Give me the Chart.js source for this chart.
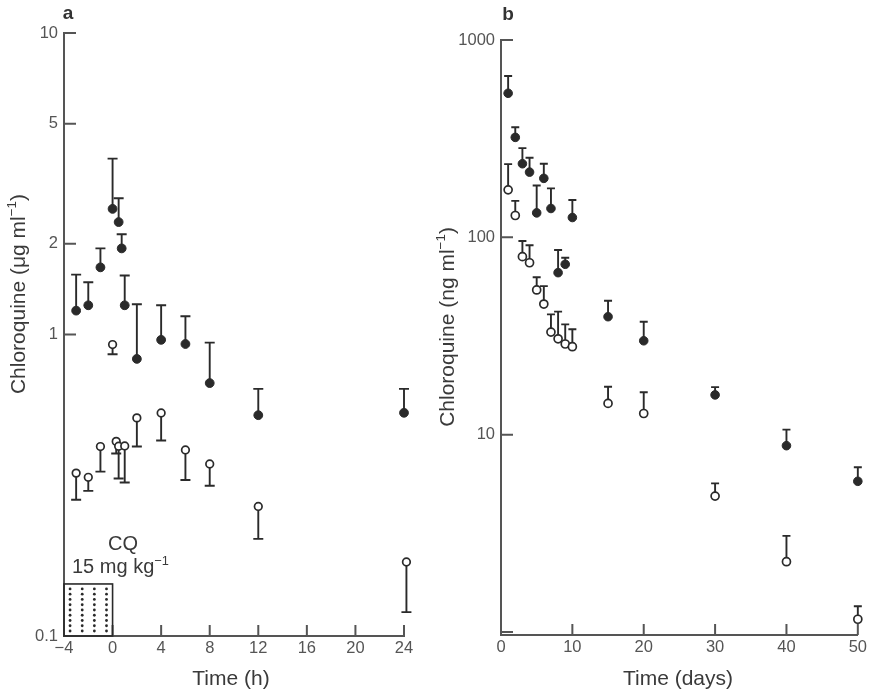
<!DOCTYPE html>
<html>
<head>
<meta charset="utf-8">
<script src="https://cdn.jsdelivr.net/npm/chart.js@4.4.0/dist/chart.umd.min.js"></script>
<style>
html, body { margin: 0; padding: 0; background: #fff; }
#wrap { position: relative; width: 870px; height: 695px; overflow: hidden; }
canvas { position: absolute; top: 0; }
#chartA { left: 0; }
#chartB { left: 420px; }
</style>
</head>
<body>
<div id="wrap">
    <canvas id="chartA" width="430" height="695"></canvas>
    <canvas id="chartB" width="450" height="695"></canvas>
</div>
<script>
// ---- panel a : time in hours, chloroquine in ug/ml ----
const hoursFilled = [-3, -2, -1, 0, 0.5, 0.75, 1, 2, 4, 6, 8, 12, 24];
const meanFilledA = [1.20, 1.25, 1.67, 2.61, 2.36, 1.93, 1.25, 0.83, 0.96, 0.93, 0.69, 0.54, 0.55];
const upperFilledA = [1.58, 1.49, 1.93, 3.83, 2.83, 2.15, 1.57, 1.26, 1.25, 1.15, 0.94, 0.66, 0.66];

const hoursOpen = [-3, -2, -1, 0, 0.3, 0.5, 1, 2, 4, 6, 8, 12, 24.2];
const meanOpenA = [0.347, 0.336, 0.425, 0.926, 0.442, 0.426, 0.427, 0.529, 0.549, 0.414, 0.372, 0.269, 0.176];
const lowerOpenA = [0.283, 0.303, 0.351, 0.86, 0.403, 0.333, 0.323, 0.425, 0.445, 0.329, 0.315, 0.210, 0.120];

const xTicksA = [-4, 0, 4, 8, 12, 16, 20, 24];
const yTicksA = [0.1, 1, 2, 5, 10];
const yLabelsA = ['0.1', '1', '2', '5', '10'];

// ---- panel b : time in days, chloroquine in ng/ml ----
const days = [1, 2, 3, 4, 5, 6, 7, 8, 9, 10, 15, 20, 30, 40, 50];
const meanFilledB = [537, 321, 236, 214, 133, 199, 140, 66.2, 73, 126, 39.6, 29.9, 15.9, 8.79, 5.80];
const upperFilledB = [657, 361, 283, 253, 183, 236, 177, 86.2, 78.8, 154.5, 47.7, 37.3, 17.4, 10.6, 6.83];
const meanOpenB = [174, 129, 79.8, 74.3, 54.1, 45.9, 33.1, 30.6, 28.8, 27.9, 14.4, 12.8, 4.88, 2.27, 1.16];
const upperOpenB = [235, 153, 95.8, 91.1, 62.7, 56.6, 40.7, 42.0, 36.2, 34.2, 17.5, 16.4, 5.66, 3.07, 1.35];

const xTicksB = [0, 10, 20, 30, 40, 50];
const yTicksB = [1, 10, 100, 1000];
const yLabelsB = ['', '10', '100', '1000'];

// dose box (0.1 to top of box, from -4 h to 0 h)
const doseBox = { from: -4, to: 0, top: 0.1488 };
const doseDotCols = [-3.5, -2.5, -1.5, -0.5];

const FONT = '"Liberation Sans", Arial, Helvetica, sans-serif';
const INK = '#2a2a2a';
const AXIS = '#555';
const TICKTXT = '#555';
const TITLE = '#3a3a3a';

function pts(xs, ys) {
    return xs.map((x, i) => ({ x: x, y: ys[i] }));
}

// draws a run of text pieces, some of them superscript, centred or left aligned
function drawRuns(ctx, runs, x, y, size, align, rotate) {
    const supSize = size * 0.64;
    let total = 0;
    runs.forEach(r => {
        ctx.font = (r.bold ? 'bold ' : '') + (r.sup ? supSize : size) + 'px ' + FONT;
        r.w = ctx.measureText(r.t).width;
        total += r.w;
    });
    ctx.save();
    ctx.translate(x, y);
    if (rotate) ctx.rotate(rotate);
    ctx.textAlign = 'left';
    ctx.textBaseline = 'alphabetic';
    let cx = align === 'center' ? -total / 2 : 0;
    runs.forEach(r => {
        ctx.font = (r.bold ? 'bold ' : '') + (r.sup ? supSize : size) + 'px ' + FONT;
        ctx.fillText(r.t, cx, r.sup ? -size * 0.42 : 0);
        cx += r.w;
    });
    ctx.restore();
}

const errorBarPlugin = {
    id: 'errorBars',
    beforeDatasetsDraw(chart, args, opts) {
        const ctx = chart.ctx;
        const xs = chart.scales.x, ys = chart.scales.y;
        ctx.save();
        ctx.strokeStyle = INK;
        ctx.lineWidth = 1.9;
        chart.data.datasets.forEach(ds => {
            if (!ds.errorTo) return;
            ds.data.forEach((p, i) => {
                const px = xs.getPixelForValue(p.x);
                const py = ys.getPixelForValue(p.y);
                const pe = ys.getPixelForValue(ds.errorTo[i]);
                ctx.beginPath();
                ctx.moveTo(px, py);
                ctx.lineTo(px, pe);
                ctx.moveTo(px - opts.cap / 2, pe);
                ctx.lineTo(px + opts.cap / 2, pe);
                ctx.stroke();
            });
        });
        ctx.restore();
    }
};

// tick marks drawn on the inside of the axes
function insideTicks(xVals, yVals) {
    return {
        id: 'insideTicks',
        afterDraw(chart) {
            const ctx = chart.ctx;
            const xs = chart.scales.x, ys = chart.scales.y;
            const area = chart.chartArea;
            ctx.save();
            ctx.strokeStyle = AXIS;
            ctx.lineWidth = 2;
            ctx.beginPath();
            xVals.forEach(v => {
                const px = xs.getPixelForValue(v);
                ctx.moveTo(px, area.bottom);
                ctx.lineTo(px, area.bottom - 11);
            });
            yVals.forEach(v => {
                const py = ys.getPixelForValue(v);
                ctx.moveTo(area.left, py);
                ctx.lineTo(area.left + 12, py);
            });
            ctx.stroke();
            ctx.restore();
        }
    };
}

function baseOptions(cfg) {
    return {
        responsive: false,
        animation: false,
        events: [],
        layout: { padding: cfg.padding },
        plugins: {
            legend: { display: false },
            tooltip: { enabled: false },
            errorBars: { cap: cfg.cap }
        },
        scales: {
            x: {
                type: 'linear',
                min: cfg.xMin,
                max: cfg.xMax,
                afterFit: s => { s.height = cfg.xHeight; },
                afterBuildTicks: s => { s.ticks = cfg.xTicks.map(v => ({ value: v })); },
                grid: { display: false, drawTicks: false },
                border: { display: true, color: AXIS, width: 2 },
                ticks: {
                    color: TICKTXT,
                    padding: 3,
                    maxRotation: 0,
                    font: { family: FONT, size: 16.5 },
                    callback: v => (v < 0 ? '\u2212' + Math.abs(v) : String(v))
                }
            },
            y: {
                type: 'logarithmic',
                min: cfg.yMin,
                max: cfg.yMax,
                afterFit: s => { s.width = cfg.yWidth; },
                afterBuildTicks: s => { s.ticks = cfg.yTicks.map(v => ({ value: v })); },
                grid: { display: false, drawTicks: false },
                border: { display: true, color: AXIS, width: 2 },
                ticks: {
                    color: TICKTXT,
                    padding: 6,
                    font: { family: FONT, size: 16.5 },
                    callback: v => {
                        const i = cfg.yTicks.indexOf(v);
                        return i >= 0 ? cfg.yLabels[i] : '';
                    }
                }
            }
        }
    };
}

function filledSet(data, err, r) {
    return {
        data: data, errorTo: err, showLine: false, clip: false,
        pointStyle: 'circle', pointRadius: r,
        backgroundColor: INK, borderColor: INK, borderWidth: 1
    };
}

function openSet(data, err, r) {
    return {
        data: data, errorTo: err, showLine: false, clip: false,
        pointStyle: 'circle', pointRadius: r,
        backgroundColor: '#fff', borderColor: INK, borderWidth: 1.7
    };
}

// ---- chart a ----
const decorA = {
    id: 'decorA',
    afterDraw(chart) {
        const ctx = chart.ctx;
        const xs = chart.scales.x, ys = chart.scales.y;
        const x0 = xs.getPixelForValue(doseBox.from);
        const x1 = xs.getPixelForValue(doseBox.to);
        const yTop = ys.getPixelForValue(doseBox.top);
        const yBot = ys.getPixelForValue(0.1);
        ctx.save();
        ctx.strokeStyle = INK;
        ctx.lineWidth = 1.6;
        ctx.strokeRect(x0, yTop, x1 - x0, yBot - yTop);
        ctx.fillStyle = INK;
        doseDotCols.forEach(c => {
            const px = xs.getPixelForValue(c);
            for (let k = 0; k < 9; k++) {
                const py = yTop + 5 + k * (yBot - yTop - 10) / 8;
                ctx.beginPath();
                ctx.arc(px, py, 1.4, 0, Math.PI * 2);
                ctx.fill();
            }
        });
        ctx.fillStyle = TITLE;
        drawRuns(ctx, [{ t: 'CQ' }], 123, 550, 20, 'center');
        drawRuns(ctx, [{ t: '15 mg kg' }, { t: '\u22121', sup: true }], 72, 573, 20, 'left');
        drawRuns(ctx, [{ t: 'Time (h)' }], 231, 685, 21, 'center');
        drawRuns(ctx, [{ t: 'Chloroquine (\u03bcg ml' }, { t: '\u22121', sup: true }, { t: ')' }],
            25, 294, 21, 'center', -Math.PI / 2);
        ctx.fillStyle = '#333';
        drawRuns(ctx, [{ t: 'a', bold: true }], 68, 19, 19, 'center');
        ctx.restore();
    }
};

new Chart(document.getElementById('chartA'), {
    type: 'scatter',
    data: {
        datasets: [
            openSet(pts(hoursOpen, meanOpenA), lowerOpenA, 3.8),
            filledSet(pts(hoursFilled, meanFilledA), upperFilledA, 4.4)
        ]
    },
    options: baseOptions({
        padding: { top: 33, right: 26, bottom: 0, left: 0 },
        cap: 10,
        xMin: -4, xMax: 24, xTicks: xTicksA, xHeight: 59,
        yMin: 0.1, yMax: 10, yTicks: yTicksA, yLabels: yLabelsA, yWidth: 64
    }),
    plugins: [errorBarPlugin, insideTicks(xTicksA, yTicksA), decorA]
});

// ---- chart b ----
const decorB = {
    id: 'decorB',
    afterDraw(chart) {
        const ctx = chart.ctx;
        ctx.save();
        ctx.fillStyle = TITLE;
        drawRuns(ctx, [{ t: 'Time (days)' }], 258, 685, 21, 'center');
        drawRuns(ctx, [{ t: 'Chloroquine (ng ml' }, { t: '\u22121', sup: true }, { t: ')' }],
            34, 327, 21, 'center', -Math.PI / 2);
        ctx.fillStyle = '#333';
        drawRuns(ctx, [{ t: 'b', bold: true }], 88, 20, 19, 'center');
        ctx.restore();
    }
};

new Chart(document.getElementById('chartB'), {
    type: 'scatter',
    data: {
        datasets: [
            openSet(pts(days, meanOpenB), upperOpenB, 4),
            filledSet(pts(days, meanFilledB), upperFilledB, 4.3)
        ]
    },
    options: baseOptions({
        padding: { top: 40, right: 10.5, bottom: 0, left: 0 },
        cap: 8,
        xMin: 0, xMax: 50, xTicks: xTicksB, xHeight: 60,
        yMin: 0.965, yMax: 1000, yTicks: yTicksB, yLabels: yLabelsB, yWidth: 81
    }),
    plugins: [errorBarPlugin, insideTicks(xTicksB, yTicksB), decorB]
});
</script>
</body>
</html>
